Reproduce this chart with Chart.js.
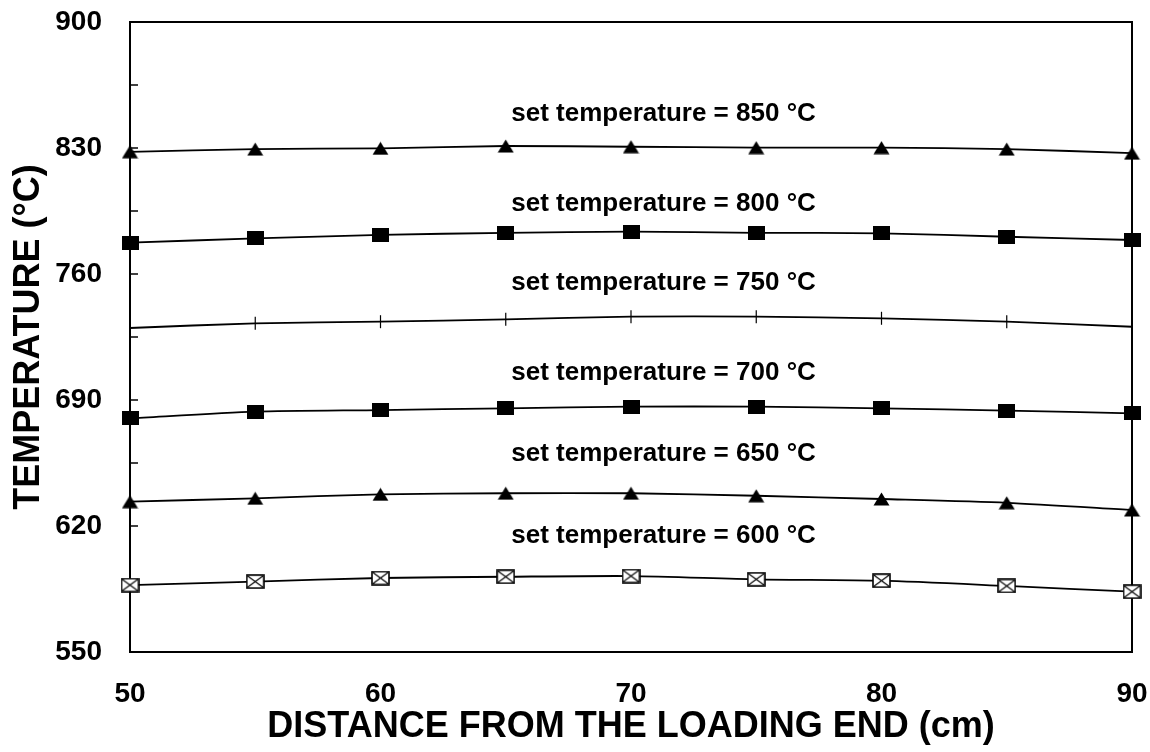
<!DOCTYPE html>
<html>
<head>
<meta charset="utf-8">
<script src="https://cdn.jsdelivr.net/npm/chart.js@4.4.0/dist/chart.umd.min.js"></script>
<style>
  html, body { margin: 0; padding: 0; background: #ffffff; }
  #wrap { width: 1150px; height: 752px; position: relative; }
</style>
</head>
<body>
<div id="wrap"><canvas id="c" width="1150" height="752"></canvas></div>
<script>
// ---- data ----
const distances = [50, 55, 60, 65, 70, 75, 80, 85, 90];
const temp850 = [827.9, 829.4, 829.8, 831.1, 830.7, 830.2, 830.2, 829.4, 827.1];
const temp800 = [777.4, 779.8, 781.7, 782.9, 783.5, 782.9, 782.6, 780.7, 778.9];
const temp750 = [730.0, 732.6, 733.5, 734.8, 736.3, 736.3, 735.4, 733.5, 730.7];
const temp700 = [679.8, 683.5, 684.4, 685.4, 686.3, 686.3, 685.4, 684.1, 682.6];
const temp650 = [633.5, 635.4, 637.6, 638.2, 638.2, 636.8, 635.0, 632.9, 628.9];
const temp600 = [587.2, 589.1, 591.1, 591.8, 592.2, 590.4, 589.6, 586.7, 583.5];
const seriesLabels = [
  'set temperature = 850 °C',
  'set temperature = 800 °C',
  'set temperature = 750 °C',
  'set temperature = 700 °C',
  'set temperature = 650 °C',
  'set temperature = 600 °C'
];
const labelYValues = [848.9, 799.2, 755.0, 705.3, 660.0, 614.4];
const labelXValue = 71.3;
const yTickLabels = [550, 620, 690, 760, 830, 900];
const xTickLabels = [50, 60, 70, 80, 90];

// ---- marker images ----
function mk(w, h, draw) {
  const c = document.createElement('canvas');
  c.width = w; c.height = h;
  draw(c.getContext('2d'), w, h);
  return c;
}
const triMarker = mk(17, 14, (g, w, h) => {
  g.fillStyle = '#000';
  g.beginPath();
  g.moveTo(w / 2, 0.5); g.lineTo(w - 0.5, h - 0.5); g.lineTo(0.5, h - 0.5);
  g.closePath(); g.fill();
});
const sqMarker = mk(17, 14, (g, w, h) => {
  g.fillStyle = '#000';
  g.fillRect(0, 0, w, h);
});
const boxMarker = mk(19, 15, (g, w, h) => {
  g.fillStyle = '#fff';
  g.fillRect(1, 1, w - 2, h - 2);
  g.strokeStyle = '#000';
  g.lineWidth = 1.6;
  g.strokeRect(1, 1, w - 2, h - 2);
  g.lineWidth = 1.1;
  g.beginPath();
  g.moveTo(2, 2); g.lineTo(w - 2, h - 2);
  g.moveTo(w - 2, 2); g.lineTo(2, h - 2);
  g.stroke();
});

function pts(arr) { return distances.map((d, i) => ({ x: d, y: arr[i] })); }

function ds(arr, style, extra) {
  return Object.assign({
    data: pts(arr),
    borderColor: '#000',
    backgroundColor: '#000',
    borderWidth: 1.8,
    pointStyle: style,
    pointBorderColor: '#000',
    pointBackgroundColor: '#000',
    tension: 0.25,
    clip: false
  }, extra || {});
}

const FONT = '"Liberation Sans", Arial, Helvetica, sans-serif';

const framePlugin = {
  id: 'frame',
  beforeDatasetsDraw(chart) {
    const { ctx, chartArea: a, scales } = chart;
    ctx.save();
    ctx.strokeStyle = '#000';
    ctx.lineWidth = 2;
    ctx.strokeRect(a.left, a.top, a.right - a.left, a.bottom - a.top);
    // inward tick marks on the left axis
    ctx.lineWidth = 1.5;
    scales.y.ticks.forEach(t => {
      const y = scales.y.getPixelForValue(t.value);
      ctx.beginPath();
      ctx.moveTo(a.left, y);
      ctx.lineTo(a.left + 8, y);
      ctx.stroke();
    });
    ctx.restore();
  },
  afterDraw(chart) {
    const { ctx, scales } = chart;
    ctx.save();
    ctx.fillStyle = '#000';
    ctx.font = 'bold 26px ' + FONT;
    ctx.textAlign = 'center';
    ctx.textBaseline = 'middle';
    seriesLabels.forEach((s, i) => {
      ctx.fillText(s, scales.x.getPixelForValue(labelXValue), scales.y.getPixelForValue(labelYValues[i]));
    });
    ctx.restore();
  }
};

new Chart(document.getElementById('c'), {
  type: 'line',
  data: {
    datasets: [
      ds(temp850, triMarker, { pointRadius: 8 }),
      ds(temp800, sqMarker, { pointRadius: 8 }),
      ds(temp750, 'line', { pointRadius: 6.5, pointRotation: 90, pointBorderWidth: 1.2 }),
      ds(temp700, sqMarker, { pointRadius: 8 }),
      ds(temp650, triMarker, { pointRadius: 8 }),
      ds(temp600, boxMarker, { pointRadius: 8 })
    ]
  },
  options: {
    responsive: false,
    animation: false,
    devicePixelRatio: 1,
    layout: { padding: { top: 22, right: 18, left: 0, bottom: 0 } },
    plugins: { legend: { display: false }, tooltip: { enabled: false } },
    scales: {
      x: {
        type: 'linear',
        min: 50, max: 90,
        grid: { display: false },
        border: { display: false },
        afterFit(s) { s.height = 100; s.paddingLeft = 0; s.paddingRight = 0; },
        afterBuildTicks(s) { s.ticks = xTickLabels.map(v => ({ value: v })); },
        ticks: {
          color: '#000',
          padding: 17,
          font: { family: FONT, size: 28, weight: 'bold' },
          callback: v => String(v)
        },
        title: {
          display: true,
          text: 'DISTANCE FROM THE LOADING END (cm)',
          color: '#000',
          font: { family: FONT, size: 36, weight: 'bold' },
          padding: { top: 0, bottom: 3 }
        }
      },
      y: {
        type: 'linear',
        min: 550, max: 900,
        grid: { display: false },
        border: { display: false },
        afterFit(s) { s.width = 130; s.paddingTop = 0; s.paddingBottom = 0; },
        ticks: {
          stepSize: 35,
          autoSkip: false,
          color: '#000',
          padding: 20,
          font: { family: FONT, size: 28, weight: 'bold' },
          callback: v => (yTickLabels.includes(v) ? String(v) : '')
        },
        title: {
          display: true,
          text: 'TEMPERATURE (°C)',
          color: '#000',
          font: { family: FONT, size: 36, weight: 'bold' },
          padding: { top: 7, bottom: 0 }
        }
      }
    }
  },
  plugins: [framePlugin]
});
</script>
</body>
</html>
